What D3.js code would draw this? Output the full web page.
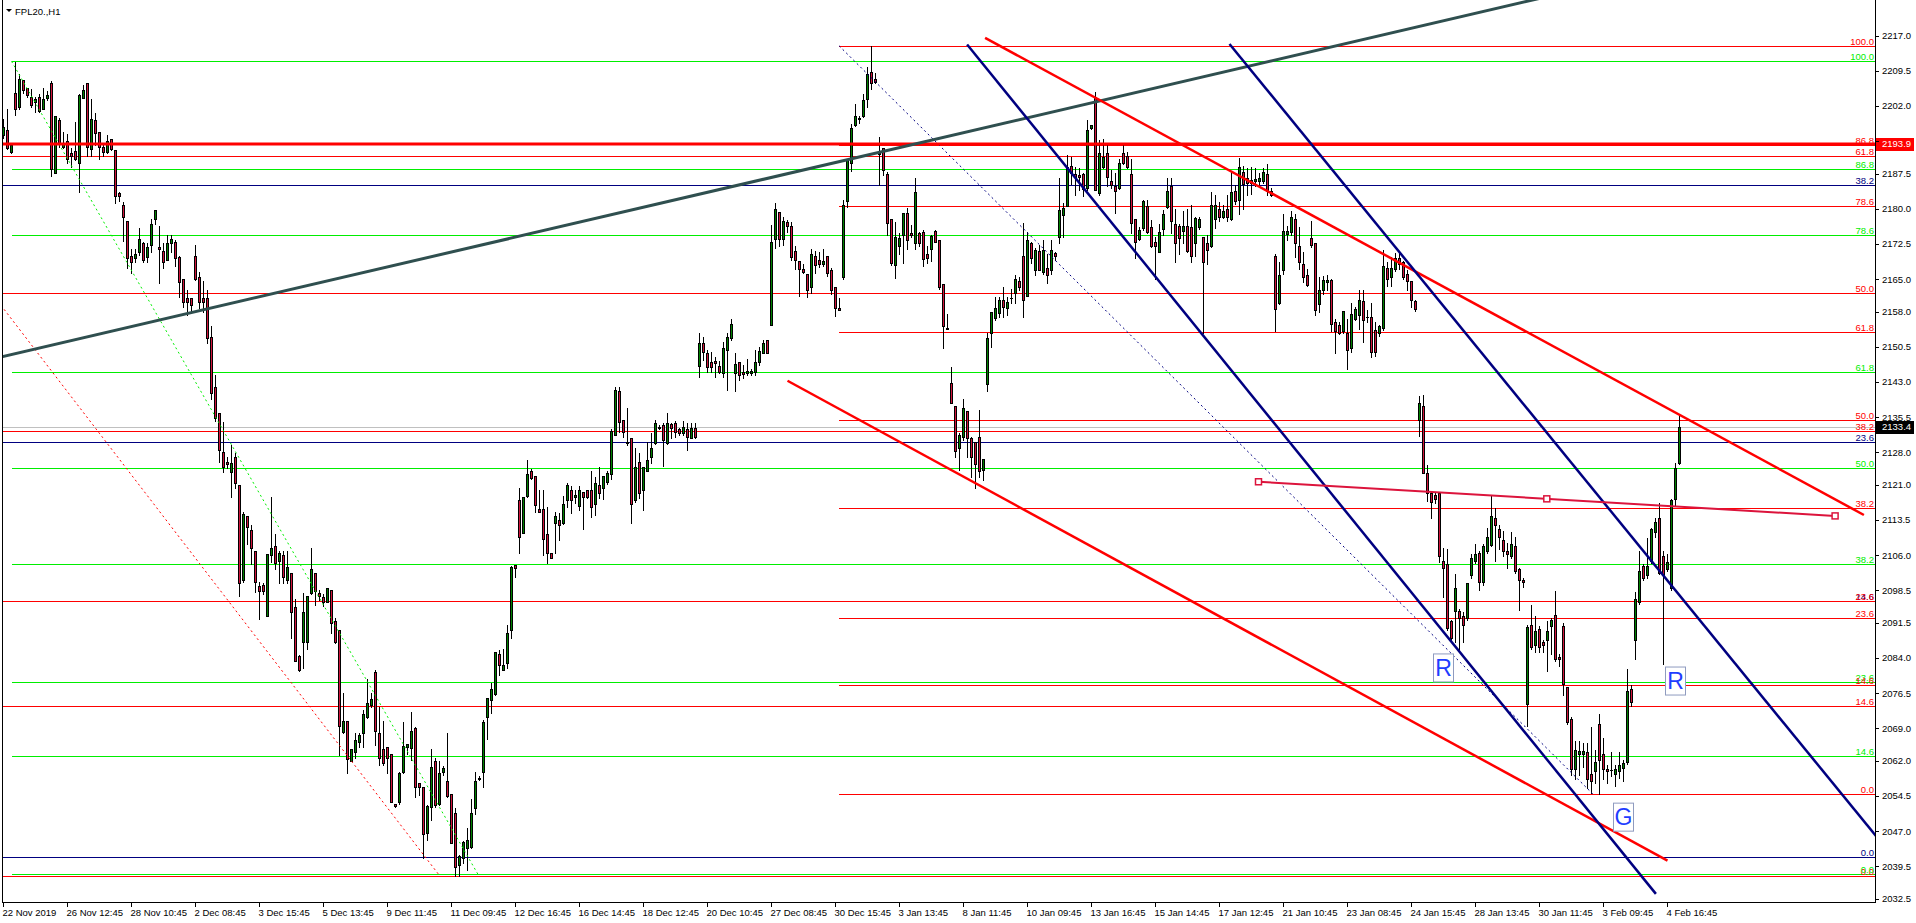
<!DOCTYPE html>
<html>
<head>
<meta charset="utf-8">
<script src="https://cdn.jsdelivr.net/npm/d3@7"></script>
<style>
  body { margin: 0; background: #fff; overflow: hidden; }
  text { font-family: "Liberation Sans", Arial, sans-serif; font-size: 9.5px; }
</style>
</head>
<body>
<svg id="chart" width="1916" height="923"></svg>
<script>
// H1 bars, [open, high, low, close]
const candles = [
[2195.8,2199.2,2195.3,2197.5],[2196.9,2201.3,2192.8,2193.0],[2192.3,2193.8,2191.9,2193.8],[2204.9,2211.5,2200.2,2201.5],
[2201.9,2208.9,2201.5,2207.9],[2207.5,2207.5,2204.9,2205.4],[2205.8,2205.8,2204.0,2204.4],[2203.9,2205.6,2201.9,2202.2],
[2202.8,2204.0,2200.8,2203.5],[2203.9,2204.6,2200.8,2200.9],[2201.5,2205.8,2201.3,2203.5],[2203.7,2205.3,2203.3,2204.4],
[2206.9,2207.4,2187.1,2188.5],[2187.8,2199.9,2187.8,2199.9],[2199.0,2199.4,2193.3,2193.9],[2193.3,2196.5,2193.0,2193.9],
[2194.5,2196.0,2189.8,2190.8],[2191.9,2193.0,2189.1,2191.3],[2192.4,2198.7,2190.5,2190.8],[2189.8,2204.7,2183.7,2204.4],
[2203.8,2206.6,2203.7,2205.4],[2206.9,2206.9,2191.3,2193.3],[2192.8,2203.5,2191.3,2199.2],[2199.0,2200.6,2193.7,2196.2],
[2196.5,2196.5,2190.8,2193.3],[2193.3,2194.0,2191.3,2192.3],[2192.3,2195.8,2191.9,2194.5],[2194.9,2194.9,2192.6,2192.8],
[2192.6,2192.6,2181.2,2182.9],[2183.4,2183.7,2181.8,2182.9],[2180.9,2181.6,2173.2,2178.4],[2177.4,2177.4,2167.3,2169.5],
[2170.0,2171.4,2166.4,2168.7],[2169.5,2171.4,2168.7,2170.4],[2170.9,2175.9,2170.2,2173.5],[2172.8,2173.0,2168.6,2169.1],
[2169.8,2172.8,2168.7,2171.9],[2172.3,2177.8,2170.9,2176.9],[2177.8,2179.9,2176.9,2179.9],[2171.9,2176.4,2164.3,2171.4],
[2171.0,2172.8,2167.3,2168.7],[2169.2,2174.4,2169.1,2172.8],[2172.8,2174.4,2170.9,2173.5],[2172.9,2173.4,2167.8,2169.5],
[2169.7,2170.0,2161.3,2164.5],[2165.0,2165.0,2159.1,2160.2],[2160.9,2162.8,2157.3,2160.2],[2160.9,2160.9,2158.3,2159.5],
[2170.0,2172.3,2164.8,2165.0],[2165.4,2166.6,2158.8,2160.2],[2160.9,2164.6,2158.1,2160.2],[2160.9,2162.8,2151.3,2152.4],
[2152.6,2155.0,2139.3,2140.7],[2141.9,2144.5,2134.7,2135.4],[2136.5,2136.5,2126.0,2128.5],[2128.0,2134.5,2123.8,2124.8],
[2125.9,2127.0,2124.6,2125.6],[2123.8,2129.5,2118.5,2125.8],[2126.9,2127.8,2120.3,2121.4],[2121.0,2121.0,2097.3,2100.0],
[2100.7,2115.3,2100.3,2114.8],[2114.4,2114.4,2108.4,2112.0],[2111.4,2112.5,2104.1,2107.5],[2106.9,2106.9,2098.2,2100.3],
[2099.4,2100.3,2092.3,2098.4],[2099.6,2100.0,2097.8,2098.4],[2092.9,2106.3,2092.9,2106.3],[2106.0,2118.5,2104.5,2107.5],
[2108.0,2110.5,2103.0,2104.4],[2104.8,2106.8,2100.1,2106.4],[2106.0,2106.8,2100.1,2101.3],[2100.8,2106.8,2100.1,2103.5],
[2102.3,2102.3,2088.2,2093.8],[2094.9,2096.6,2083.4,2083.4],[2084.4,2084.7,2081.3,2081.5],[2087.5,2097.9,2081.8,2093.8],
[2087.5,2097.3,2085.9,2097.3],[2097.9,2107.5,2097.7,2103.0],[2102.3,2102.3,2095.4,2098.4],[2097.9,2098.6,2096.4,2097.3],
[2097.1,2097.7,2095.1,2096.1],[2096.1,2098.9,2095.9,2098.9],[2098.6,2098.6,2089.3,2091.4],[2091.9,2092.5,2087.3,2087.5],
[2090.0,2090.0,2063.3,2069.5],[2068.3,2076.5,2067.9,2070.6],[2070.6,2070.6,2059.4,2062.4],[2062.1,2064.6,2061.9,2064.6],
[2064.0,2067.9,2062.6,2066.4],[2066.1,2067.9,2065.1,2067.6],[2067.9,2072.9,2064.9,2072.0],[2071.5,2079.5,2071.3,2074.5],
[2074.0,2076.6,2073.6,2075.2],[2081.0,2081.5,2065.4,2068.4],[2067.9,2073.6,2061.1,2062.6],[2064.6,2070.6,2061.1,2061.6],
[2064.9,2064.9,2059.4,2062.6],[2063.4,2063.4,2053.2,2053.3],[2052.9,2052.9,2052.2,2052.4],[2053.3,2059.7,2052.9,2059.4],
[2059.7,2070.4,2059.4,2065.3],[2064.9,2065.6,2063.6,2065.6],[2064.7,2072.5,2062.2,2068.4],[2069.0,2069.3,2054.2,2056.5],
[2057.2,2057.2,2054.7,2056.5],[2056.4,2056.5,2041.2,2046.3],[2046.7,2052.6,2045.2,2052.4],[2052.2,2064.6,2049.4,2060.8],
[2062.0,2062.6,2052.2,2052.6],[2052.9,2061.9,2052.6,2059.4],[2059.7,2060.9,2059.0,2060.4],[2057.8,2067.9,2054.4,2054.5],
[2054.9,2054.9,2044.4,2044.4],[2050.8,2051.9,2037.4,2039.4],[2039.8,2041.9,2037.4,2041.7],[2041.2,2045.0,2040.1,2044.7],
[2043.5,2047.6,2038.7,2045.2],[2043.7,2053.8,2043.3,2050.8],[2051.9,2059.7,2050.7,2057.8],[2058.1,2058.8,2057.9,2058.4],
[2059.7,2070.8,2056.4,2070.4],[2071.5,2075.4,2066.8,2075.4],[2075.0,2078.6,2072.2,2077.5],[2076.3,2085.4,2076.1,2085.4],
[2084.8,2085.7,2080.4,2082.5],[2081.5,2085.9,2081.5,2082.5],[2082.9,2091.1,2081.8,2089.3],[2090.0,2103.7,2088.2,2103.4],
[2103.8,2103.8,2101.4,2103.2],[2117.9,2120.3,2106.4,2109.8],[2110.8,2118.5,2110.7,2118.5],[2118.7,2126.4,2118.5,2123.3],
[2124.0,2124.4,2122.2,2122.4],[2122.9,2122.9,2115.3,2116.7],[2115.8,2119.9,2115.3,2115.3],[2115.8,2119.9,2106.0,2109.4],
[2110.5,2116.4,2104.3,2106.4],[2106.5,2106.5,2105.3,2105.5],[2112.8,2115.3,2106.4,2114.4],[2113.5,2115.0,2109.3,2112.5],
[2112.8,2118.7,2112.7,2116.9],[2117.9,2121.5,2116.2,2121.0],[2119.9,2120.7,2115.0,2117.9],[2118.4,2119.9,2117.1,2118.9],
[2116.5,2120.7,2115.7,2119.9],[2119.6,2119.6,2111.7,2118.4],[2119.9,2119.9,2118.2,2118.4],[2119.9,2123.9,2114.2,2116.2],
[2116.9,2122.8,2114.5,2121.4],[2121.0,2124.8,2118.2,2119.2],[2120.3,2122.9,2118.0,2122.9],[2121.7,2124.1,2121.2,2123.5],
[2123.3,2132.9,2122.2,2132.6],[2131.8,2142.0,2131.7,2141.3],[2141.0,2142.0,2132.4,2134.4],[2134.9,2134.9,2131.3,2132.4],
[2130.3,2137.4,2129.6,2129.9],[2131.0,2131.0,2112.8,2116.9],[2117.9,2128.9,2117.4,2124.9],[2125.9,2127.8,2118.2,2119.2],
[2119.9,2124.8,2115.7,2124.8],[2123.9,2130.3,2123.9,2126.4],[2126.9,2132.1,2125.8,2128.9],[2129.9,2134.9,2129.8,2134.2],
[2133.3,2133.8,2132.9,2133.5],[2133.8,2134.2,2125.1,2130.6],[2129.9,2136.5,2129.8,2134.2],[2134.1,2134.2,2131.0,2133.3],
[2134.2,2134.6,2131.3,2132.4],[2132.9,2133.1,2131.7,2132.2],[2132.1,2134.6,2131.7,2133.5],[2132.9,2134.2,2128.4,2131.3],
[2131.0,2134.3,2131.0,2133.3],[2133.3,2134.2,2131.0,2131.3],[2146.5,2153.6,2144.2,2151.4],[2151.3,2152.7,2147.7,2149.5],
[2149.2,2149.9,2145.2,2146.3],[2147.4,2149.5,2145.2,2146.3],[2147.6,2148.4,2144.2,2147.0],[2146.4,2147.6,2144.9,2145.2],
[2144.9,2151.6,2144.2,2150.2],[2149.9,2153.4,2141.3,2152.7],[2152.4,2156.4,2152.0,2155.4],[2144.9,2149.3,2141.0,2146.9],
[2147.2,2147.4,2143.4,2144.5],[2145.2,2146.6,2143.8,2144.8],[2144.9,2147.9,2144.5,2145.4],[2145.0,2145.9,2144.5,2145.4],
[2145.2,2149.9,2144.5,2147.4],[2147.4,2150.6,2146.6,2149.7],[2149.3,2152.0,2149.3,2151.4],[2152.0,2152.0,2149.2,2149.3],
[2155.2,2176.6,2155.2,2173.0],[2173.7,2181.4,2171.6,2180.0],[2179.3,2179.3,2172.0,2173.7],[2173.5,2178.4,2172.3,2177.4],
[2177.3,2177.6,2175.2,2176.4],[2176.4,2177.3,2169.1,2169.8],[2171.0,2172.0,2167.1,2169.1],[2169.0,2169.0,2161.4,2167.2],
[2167.1,2168.3,2166.4,2166.6],[2166.1,2166.1,2161.3,2162.8],[2163.3,2171.4,2162.0,2170.5],[2170.0,2171.1,2166.3,2168.0],
[2169.1,2170.9,2167.7,2168.3],[2168.3,2171.4,2167.8,2169.0],[2170.0,2170.0,2165.6,2166.4],[2167.0,2167.5,2161.8,2162.8],
[2163.4,2163.4,2157.2,2158.8],[2158.9,2160.9,2158.4,2158.4],[2165.4,2181.9,2165.0,2180.9],[2181.8,2190.8,2180.5,2190.5],
[2189.8,2198.2,2188.2,2197.3],[2198.0,2202.4,2197.8,2199.9],[2199.3,2199.9,2198.3,2199.5],[2199.8,2204.7,2199.6,2203.3],
[2203.5,2210.3,2201.9,2208.9],[2209.2,2214.9,2205.6,2206.9],[2207.9,2209.0,2206.9,2207.2],[2192.0,2195.5,2185.2,2191.8],
[2193.0,2193.0,2187.3,2188.4],[2187.6,2188.0,2174.4,2177.1],[2177.8,2177.8,2168.0,2168.4],[2168.0,2177.3,2165.2,2174.1],
[2172.0,2174.8,2170.5,2173.9],[2174.5,2179.2,2168.4,2179.2],[2179.1,2180.2,2171.4,2173.4],[2174.8,2176.6,2174.1,2174.5],
[2172.7,2186.6,2171.4,2183.7],[2174.8,2175.2,2172.0,2172.7],[2175.2,2175.5,2167.9,2169.3],[2170.3,2172.0,2168.5,2169.5],
[2171.4,2174.5,2169.0,2174.2],[2175.4,2175.5,2172.9,2173.0],[2173.4,2173.4,2163.0,2163.4],[2163.9,2163.9,2150.2,2154.9],
[2154.5,2157.6,2154.3,2154.3],[2142.9,2146.3,2138.5,2138.5],[2137.9,2137.9,2127.1,2128.3],[2128.9,2132.1,2124.2,2131.7],
[2131.3,2139.3,2130.6,2137.4],[2136.8,2136.8,2127.1,2131.0],[2131.0,2131.3,2122.8,2126.9],[2130.3,2130.3,2120.3,2125.6],
[2131.2,2137.0,2122.8,2123.9],[2124.2,2126.5,2122.1,2126.5],[2142.7,2153.4,2141.0,2152.4],[2153.4,2158.0,2150.6,2157.9],
[2156.8,2161.3,2156.3,2158.8],[2157.8,2161.3,2157.0,2160.6],[2160.6,2163.3,2157.0,2159.1],[2158.8,2161.3,2157.4,2160.2],
[2160.9,2163.0,2159.9,2161.0],[2162.0,2165.9,2159.9,2165.0],[2164.7,2165.5,2162.7,2163.3],[2170.0,2177.0,2157.0,2160.6],
[2161.4,2175.2,2161.4,2173.4],[2172.7,2173.0,2168.5,2169.5],[2167.0,2171.6,2165.9,2171.2],[2171.1,2172.3,2167.0,2167.0],
[2166.6,2173.4,2166.2,2171.2],[2167.5,2170.5,2164.3,2165.9],[2167.0,2173.4,2166.2,2171.2],[2170.7,2170.9,2169.1,2170.0],
[2174.0,2186.6,2172.7,2179.9],[2178.7,2181.2,2174.1,2180.2],[2180.7,2191.6,2180.6,2188.9],[2189.2,2191.1,2185.4,2187.8],
[2187.6,2189.1,2183.0,2186.8],[2187.3,2188.7,2184.1,2186.8],[2187.6,2187.8,2182.7,2184.2],[2184.4,2199.0,2184.1,2196.9],
[2197.3,2198.0,2197.1,2198.0],[2203.9,2205.1,2184.1,2184.1],[2183.4,2194.8,2183.0,2191.9],[2188.9,2194.9,2188.7,2191.1],
[2191.9,2194.1,2184.9,2186.8],[2186.0,2188.4,2184.4,2185.2],[2185.0,2187.8,2179.2,2183.9],[2184.4,2190.8,2184.2,2189.8],
[2191.9,2193.9,2189.6,2189.9],[2191.3,2192.3,2188.7,2188.9],[2187.4,2190.6,2174.8,2177.1],[2177.8,2177.8,2169.5,2173.0],
[2173.5,2176.2,2173.4,2175.5],[2175.9,2181.9,2175.5,2181.8],[2180.7,2181.9,2174.8,2175.0],[2176.2,2177.6,2171.8,2172.0],
[2173.0,2174.1,2165.0,2172.0],[2170.9,2176.9,2170.9,2175.0],[2175.7,2179.8,2174.4,2179.0],[2180.5,2186.6,2180.2,2183.9],
[2184.9,2186.6,2174.9,2177.4],[2176.9,2180.0,2168.7,2172.8],[2176.4,2176.9,2170.3,2173.8],[2175.4,2179.5,2172.8,2176.4],
[2176.4,2180.0,2170.8,2171.0],[2176.1,2180.8,2168.7,2170.0],[2172.8,2178.4,2170.0,2178.1],[2176.2,2178.2,2175.7,2177.9],
[2174.0,2174.0,2153.4,2168.7],[2172.8,2174.4,2168.2,2171.3],[2172.0,2183.6,2171.8,2180.8],[2177.9,2183.0,2175.9,2180.8],
[2180.0,2181.5,2177.4,2178.4],[2178.4,2180.8,2178.1,2179.5],[2180.0,2183.0,2177.4,2178.4],[2177.9,2188.2,2177.7,2183.6],
[2183.9,2185.1,2181.0,2181.8],[2182.0,2191.0,2179.0,2188.9],[2187.9,2189.2,2180.0,2185.3],[2186.6,2188.7,2183.0,2185.6],
[2186.3,2189.0,2183.3,2185.6],[2185.9,2188.7,2184.9,2186.4],[2186.1,2187.7,2185.1,2186.6],[2185.9,2188.7,2185.6,2188.0],
[2187.4,2189.7,2183.0,2183.9],[2183.9,2184.6,2182.8,2183.0],[2170.0,2170.3,2153.9,2158.7],[2160.0,2168.7,2159.7,2165.8],
[2166.9,2179.0,2166.2,2175.4],[2174.7,2176.4,2173.3,2175.4],[2175.1,2179.5,2174.4,2178.4],[2177.9,2179.0,2169.8,2172.8],
[2172.0,2176.1,2167.2,2168.7],[2168.2,2170.8,2164.4,2165.5],[2165.8,2167.2,2163.6,2163.8],[2173.8,2177.4,2171.8,2172.3],
[2172.8,2172.8,2157.3,2158.5],[2159.8,2165.5,2158.0,2162.6],[2162.6,2165.7,2161.9,2164.8],[2164.4,2165.9,2162.8,2164.8],
[2164.8,2165.1,2153.9,2155.4],[2155.9,2156.4,2149.3,2153.9],[2155.2,2155.9,2153.2,2153.6],[2153.9,2158.3,2153.4,2158.3],
[2153.6,2156.4,2145.9,2149.8],[2150.3,2160.0,2149.5,2157.5],[2156.4,2159.0,2156.2,2158.7],[2157.3,2162.8,2154.4,2160.5],
[2160.3,2162.8,2151.5,2156.2],[2157.0,2158.5,2155.9,2156.9],[2157.0,2160.0,2148.3,2149.5],[2154.2,2155.9,2148.5,2149.5],
[2153.4,2155.2,2152.9,2154.9],[2154.6,2171.3,2154.2,2167.9],[2167.5,2168.7,2163.6,2165.1],[2165.5,2169.7,2163.6,2167.5],
[2167.2,2170.6,2166.7,2169.5],[2169.5,2170.6,2167.2,2168.2],[2168.7,2168.9,2165.1,2165.5],[2166.2,2166.9,2162.8,2164.6],
[2164.6,2164.6,2159.0,2160.5],[2160.3,2160.5,2158.3,2158.7],[2134.9,2140.1,2131.4,2138.5],[2137.8,2140.3,2123.5,2123.5],
[2123.5,2125.2,2117.6,2119.4],[2119.4,2119.8,2114.0,2117.4],[2118.8,2119.4,2117.1,2118.1],[2119.4,2119.4,2104.5,2105.8],
[2104.8,2107.5,2097.1,2103.3],[2104.1,2107.3,2090.0,2090.5],[2092.0,2092.2,2087.9,2088.4],[2094.0,2102.0,2087.4,2099.0],
[2094.0,2094.6,2085.9,2092.5],[2093.0,2093.8,2087.4,2091.0],[2092.5,2100.0,2092.2,2100.0],[2101.7,2106.3,2101.2,2105.5],
[2104.8,2108.4,2104.3,2106.3],[2106.5,2106.8,2098.6,2100.2],[2100.2,2108.4,2099.7,2107.9],[2106.8,2111.9,2106.5,2109.9],
[2108.2,2118.6,2107.9,2114.3],[2114.0,2116.0,2104.8,2112.5],[2111.6,2112.5,2107.3,2109.9],[2109.2,2111.2,2105.8,2106.8],
[2106.8,2108.6,2103.3,2106.3],[2105.8,2110.9,2105.3,2108.4],[2107.9,2109.9,2102.2,2102.7],[2103.0,2103.3,2094.3,2100.7],
[2100.7,2101.2,2099.2,2100.2],[2074.1,2091.0,2069.5,2090.7],[2091.0,2095.3,2085.9,2086.4],[2086.9,2093.0,2085.4,2089.9],
[2090.2,2090.8,2085.4,2086.4],[2087.4,2087.9,2085.4,2086.9],[2087.9,2092.0,2081.3,2089.9],[2090.8,2092.5,2084.8,2092.2],
[2093.2,2098.3,2083.3,2083.8],[2084.3,2084.8,2082.3,2083.8],[2090.8,2091.5,2076.2,2078.5],[2077.9,2077.9,2070.0,2070.3],
[2071.0,2071.5,2059.1,2060.3],[2060.3,2066.2,2058.2,2064.4],[2063.6,2066.2,2059.1,2064.2],[2063.4,2065.9,2060.8,2064.2],
[2063.9,2065.9,2056.2,2058.2],[2059.3,2069.3,2055.2,2057.7],[2059.8,2064.4,2057.2,2061.8],[2070.0,2072.0,2055.0,2062.3],
[2063.4,2066.9,2058.2,2060.3],[2060.3,2061.1,2057.2,2059.8],[2060.0,2063.9,2058.8,2060.0],[2059.3,2061.1,2056.7,2060.3],
[2059.8,2063.9,2058.4,2061.1],[2060.5,2062.3,2057.7,2061.5],[2061.8,2081.6,2061.3,2076.9],[2077.5,2078.2,2073.8,2074.6],
[2087.9,2098.1,2083.8,2096.6],[2096.1,2106.8,2095.6,2102.7],[2103.7,2104.1,2100.7,2101.2],[2101.7,2109.6,2101.2,2103.7],
[2104.8,2111.9,2104.3,2111.6],[2110.9,2114.0,2109.9,2113.0],[2114.0,2117.1,2102.0,2102.2],[2105.8,2106.8,2082.8,2101.7],
[2103.0,2106.3,2102.7,2104.5],[2099.0,2118.1,2098.6,2117.8],[2118.1,2125.8,2116.5,2124.7],[2125.8,2136.0,2125.6,2133.4]
];

const timeLabels = ["22 Nov 2019","26 Nov 12:45","28 Nov 10:45","2 Dec 08:45","3 Dec 15:45","5 Dec 13:45",
  "9 Dec 11:45","11 Dec 09:45","12 Dec 16:45","16 Dec 14:45","18 Dec 12:45","20 Dec 10:45","27 Dec 08:45",
  "30 Dec 15:45","3 Jan 13:45","8 Jan 11:45","10 Jan 09:45","13 Jan 16:45","15 Jan 14:45","17 Jan 12:45",
  "21 Jan 10:45","23 Jan 08:45","24 Jan 15:45","28 Jan 13:45","30 Jan 11:45","3 Feb 09:45","4 Feb 16:45"];
const barsPerTimeLabel = 16;

const priceTicks = [2217.0,2209.5,2202.0,2194.5,2187.5,2180.0,2172.5,2165.0,2158.0,2150.5,2143.0,2135.5,2128.0,
  2121.0,2113.5,2106.0,2098.5,2091.5,2084.0,2076.5,2069.0,2062.0,2054.5,2047.0,2039.5,2032.5];

// fibonacci retracements: [bar index, price] of the 100 anchor, then of the 0 anchor
const fibLevels = [0, 14.6, 23.6, 38.2, 50, 61.8, 78.6, 86.8, 100];
const fibRedWide = [[-114.9, 2286.5], [109.1, 2037.4]];
const fibGreen = [[2, 2211.6], [118.6, 2037.8]];
const fibRedJan = [[208.9, 2214.9], [397.4, 2054.9]];
const fibNavy = [[-60, 2417.5], [-20, 2041.4]];

// trend lines, [bar index, price] pairs
const trendSlate = [[0, 2148.5], [290, 2206.3]];
const channelRedLow = [[196, 2143.3], [416, 2040.7]];
const channelRedHigh = [[245.4, 2216.6], [465.1, 2114.6]];
const channelNavyA = [[240.9, 2215.2], [413.1, 2033.6]];
const channelNavyB = [[306.5, 2215.3], [467.9, 2046.2]];
const crimsonLine = [[313.75, 2121.7], [457.9, 2114.4]];

const levelLine = 2193.9;
const bidPrice = 2133.4;
const textMarks = [["R", 360, 2081.9], ["G", 405, 2050.0], ["R", 418, 2079.1]];

// ---- layout
const plotL = 2, plotR = 1875, plotT = 0, plotB = 902;
const barStep = 4;
const x = d3.scaleLinear().domain([0, 468]).range([3.5, 3.5 + 468 * barStep]);
const y = d3.scaleLinear().domain([2032.5, 2217.0]).range([899, 36]);
const bullColor = "#008000", bearColor = "#d0143c";

const svg = d3.select("#chart");
svg.append("defs").append("clipPath").attr("id", "plotClip")
  .append("rect").attr("x", plotL).attr("y", plotT).attr("width", plotR - plotL).attr("height", plotB - plotT);

const back = svg.append("g").attr("clip-path", "url(#plotClip)").attr("shape-rendering", "crispEdges");
const candleG = svg.append("g").attr("clip-path", "url(#plotClip)").attr("shape-rendering", "crispEdges");
const front = svg.append("g").attr("clip-path", "url(#plotClip)");
const labelsG = svg.append("g");

function py(p) { return Math.round(y(p)) + 0.5; }
function priceAt(line, i) {
  const [[i1, p1], [i2, p2]] = line;
  return p1 + (p2 - p1) * (i - i1) / (i2 - i1);
}

// fib level lines (drawn behind bars)
function drawFib(anchors, color, diagColor) {
  const [[i100, p100], [i0, p0]] = anchors;
  const xStart = Math.max(plotL, x(Math.min(i100, i0)));
  fibLevels.forEach(function (lv) {
    const price = p0 + (p100 - p0) * lv / 100;
    const yy = py(price);
    if (yy < plotT || yy > plotB) return;
    back.append("line").attr("x1", xStart).attr("x2", plotR).attr("y1", yy).attr("y2", yy)
      .attr("stroke", color).attr("stroke-width", 1);
    labelsG.append("text").attr("x", plotR - 1).attr("y", yy - 2).attr("text-anchor", "end")
      .attr("fill", color).text(lv.toFixed(1));
  });
  if (diagColor) {
    front.append("line").attr("x1", x(i100)).attr("y1", y(p100)).attr("x2", x(i0)).attr("y2", y(p0))
      .attr("stroke", diagColor).attr("stroke-width", 1).attr("stroke-dasharray", "2,3");
  }
}
drawFib(fibNavy, "#000080", null);
drawFib(fibRedWide, "#ff0000", "#ff0000");
drawFib(fibGreen, "#00ee00", "#00ee00");
drawFib(fibRedJan, "#ff0000", "#000080");

// bid line
back.append("line").attr("x1", plotL).attr("x2", plotR).attr("y1", py(bidPrice)).attr("y2", py(bidPrice))
  .attr("stroke", "#c0c0c0");

// candles
candleG.selectAll("line.wick").data(candles).join("line").attr("class", "wick")
  .attr("x1", (d, i) => x(i)).attr("x2", (d, i) => x(i))
  .attr("y1", d => Math.round(y(d[1]))).attr("y2", d => Math.round(y(d[2])) + 1)
  .attr("stroke", "#000");
function bodyTop(d) { return Math.round(y(Math.max(d[0], d[3]))); }
function bodyH(d) { return Math.max(1, Math.round(y(Math.min(d[0], d[3]))) - bodyTop(d) + 1); }
candleG.selectAll("rect.body").data(candles).join("rect").attr("class", "body")
  .attr("x", (d, i) => x(i) - 1.5).attr("width", 3)
  .attr("y", bodyTop).attr("height", bodyH).attr("fill", "#000");
candleG.selectAll("rect.fill").data(candles.map((d, i) => [d, i]).filter(e => bodyH(e[0]) > 2)).join("rect")
  .attr("class", "fill")
  .attr("x", e => x(e[1]) - 0.5).attr("width", 1)
  .attr("y", e => bodyTop(e[0]) + 1).attr("height", e => bodyH(e[0]) - 2)
  .attr("fill", e => e[0][3] >= e[0][0] ? bullColor : bearColor);

// horizontal level line
front.append("line").attr("x1", plotL).attr("x2", plotR).attr("y1", y(levelLine)).attr("y2", y(levelLine))
  .attr("stroke", "#ff0000").attr("stroke-width", 3);

// trend lines
function drawTrend(line, i1, i2, color, width) {
  front.append("line")
    .attr("x1", x(i1)).attr("y1", y(priceAt(line, i1)))
    .attr("x2", x(i2)).attr("y2", y(priceAt(line, i2)))
    .attr("stroke", color).attr("stroke-width", width);
}
drawTrend(trendSlate, -2, 480, "#2f4f4f", 3);
drawTrend(channelRedLow, channelRedLow[0][0], channelRedLow[1][0], "#ff0000", 2.5);
drawTrend(channelRedHigh, channelRedHigh[0][0], channelRedHigh[1][0], "#ff0000", 2.5);
drawTrend(channelNavyA, channelNavyA[0][0], channelNavyA[1][0], "#000080", 2.5);
drawTrend(channelNavyB, channelNavyB[0][0], 480, "#000080", 2.5);
drawTrend(crimsonLine, crimsonLine[0][0], crimsonLine[1][0], "#dc143c", 2);
[crimsonLine[0][0], (crimsonLine[0][0] + crimsonLine[1][0]) / 2, crimsonLine[1][0]].forEach(function (i) {
  front.append("rect").attr("x", x(i) - 3).attr("y", y(priceAt(crimsonLine, i)) - 3)
    .attr("width", 6).attr("height", 6).attr("fill", "#fff").attr("stroke", "#dc143c").attr("stroke-width", 1.5);
});

// R / G text marks
textMarks.forEach(function (m) {
  const cx = x(m[1]), cy = y(m[2]);
  front.append("rect").attr("x", cx - 10).attr("y", cy - 14).attr("width", 20).attr("height", 28)
    .attr("fill", "#fff").attr("stroke", "#8f9bbf").attr("stroke-width", 1);
  front.append("text").attr("x", cx).attr("y", cy + 8).attr("text-anchor", "middle")
    .style("font-size", "23px").attr("fill", "#1f3dff").text(m[0]);
});

// frame and axes
const axisG = svg.append("g").attr("shape-rendering", "crispEdges");
axisG.append("line").attr("x1", plotL + 0.5).attr("x2", plotL + 0.5).attr("y1", plotT).attr("y2", plotB).attr("stroke", "#000");
axisG.append("line").attr("x1", plotR + 0.5).attr("x2", plotR + 0.5).attr("y1", plotT).attr("y2", plotB + 1).attr("stroke", "#000");
axisG.append("line").attr("x1", plotL).attr("x2", plotR + 1).attr("y1", plotB + 0.5).attr("y2", plotB + 0.5).attr("stroke", "#000");

axisG.selectAll("line.ptick").data(priceTicks).join("line").attr("class", "ptick")
  .attr("x1", plotR).attr("x2", plotR + 4).attr("y1", d => py(d)).attr("y2", d => py(d)).attr("stroke", "#000");
labelsG.selectAll("text.plabel").data(priceTicks).join("text").attr("class", "plabel")
  .attr("x", plotR + 7).attr("y", d => y(d)).attr("dy", "0.35em").attr("fill", "#000")
  .text(d => d.toFixed(1));

axisG.selectAll("line.ttick").data(timeLabels).join("line").attr("class", "ttick")
  .attr("x1", (d, k) => x(k * barsPerTimeLabel)).attr("x2", (d, k) => x(k * barsPerTimeLabel))
  .attr("y1", plotB).attr("y2", plotB + 5).attr("stroke", "#000");
labelsG.selectAll("text.tlabel").data(timeLabels).join("text").attr("class", "tlabel")
  .attr("x", (d, k) => x(k * barsPerTimeLabel) - 1).attr("y", plotB + 14).attr("fill", "#000")
  .text(d => d);

// price boxes on the axis
function priceBox(p, bg) {
  labelsG.append("rect").attr("x", plotR + 1).attr("y", Math.round(y(p)) - 6).attr("width", 38).attr("height", 13).attr("fill", bg);
  labelsG.append("text").attr("x", plotR + 7).attr("y", y(p)).attr("dy", "0.35em").attr("fill", "#fff").text(p.toFixed(1));
}
priceBox(levelLine, "#ff0000");
priceBox(bidPrice, "#000");

// title
labelsG.append("path").attr("d", "M6,9 L12,9 L9,12 Z").attr("fill", "#000");
labelsG.append("text").attr("x", 15).attr("y", 15).attr("fill", "#000").text("FPL20.,H1");
</script>
</body>
</html>
